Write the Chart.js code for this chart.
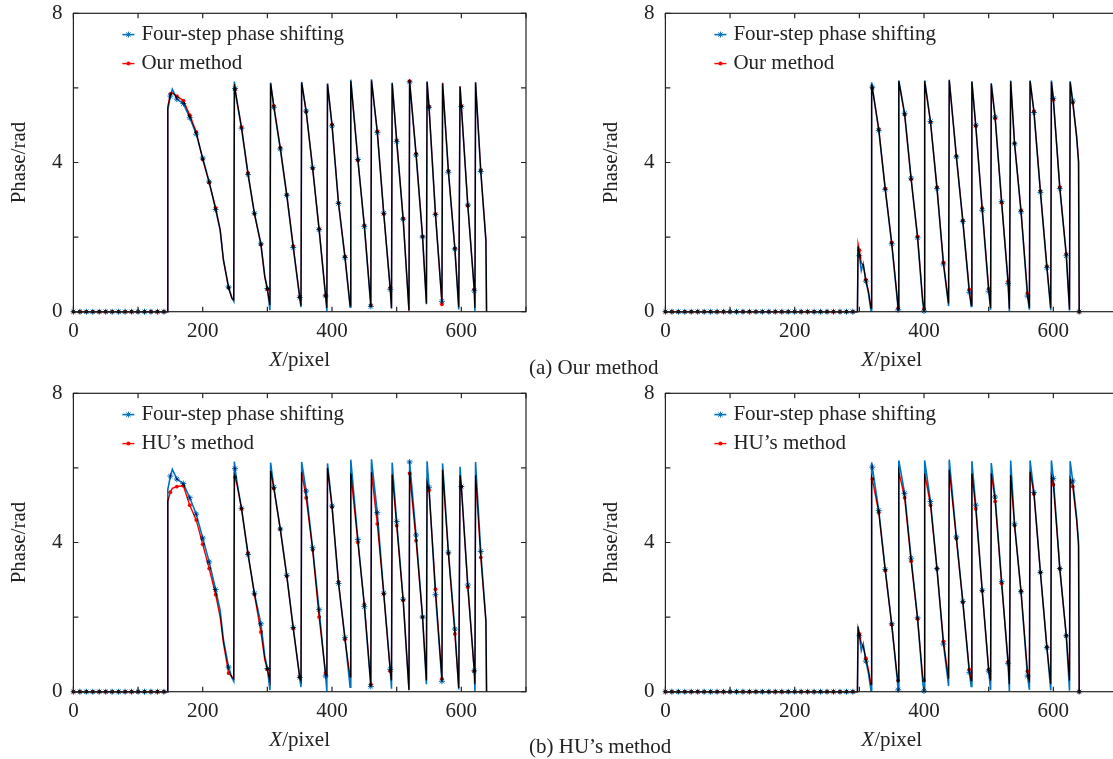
<!DOCTYPE html>
<html>
<head>
<meta charset="utf-8">
<script src="https://cdn.jsdelivr.net/npm/chart.js"></script>
<style>
  html, body { margin: 0; padding: 0; background: #fff; }
  body { width: 1113px; height: 759px; position: relative; overflow: hidden;
         font-family: "Liberation Serif", "Times New Roman", serif; }
  canvas { position: absolute; }
  .caption { position: absolute; font-size: 21px; line-height: 21px; color: #222; white-space: nowrap; }
</style>
</head>
<body>
<canvas id="chartA1" width="560" height="380" style="left:0px;top:0px"></canvas>
<canvas id="chartA2" width="560" height="380" style="left:591.6px;top:0px"></canvas>
<canvas id="chartB1" width="560" height="380" style="left:0px;top:380px"></canvas>
<canvas id="chartB2" width="560" height="380" style="left:591.6px;top:380px"></canvas>
<div class="caption" style="left:529px;top:357px">(a) Our method</div>
<div class="caption" style="left:529px;top:736px">(b) HU’s method</div>
<script>
// x positions (pixel column) for the left pair of plots, shared by both series
const xLeft = [
  0, 10, 20, 30, 40, 50, 60, 70, 80, 90, 100, 110, 120, 130, 140,
  145, 146, 150, 153, 160, 170, 180, 190, 200, 210, 220, 227, 232, 240, 245, 248,
  249, 250, 253, 260, 270, 280, 290, 296, 300, 304,
  305, 310, 320, 330, 340, 350, 352,
  353, 360, 370, 380, 390, 392,
  393, 400, 410, 420, 428,
  429, 440, 450, 460,
  461, 470, 480, 490, 492,
  493, 500, 510, 519,
  520, 530, 540, 546,
  547, 550, 560, 570,
  571, 580, 590, 596,
  598, 600, 610, 620, 621,
  622, 630, 638, 639
];

// four-step phase shifting (reference), left plots
const fourStepLeft = [
  0, 0, 0, 0, 0, 0, 0, 0, 0, 0, 0, 0, 0, 0, 0,
  0, 5.42, 5.78, 5.96, 5.7, 5.58, 5.2, 4.76, 4.12, 3.48, 2.74, 2.18, 1.4, 0.66, 0.38, 0.28,
  6.17, 5.98, 5.62, 4.92, 3.68, 2.64, 1.82, 0.96, 0.62, 0.04,
  6.14, 5.48, 4.36, 3.12, 1.72, 0.38, 0.12,
  6.16, 5.38, 3.86, 2.2, 0.42, 0.02,
  6.12, 4.98, 2.9, 1.45, 0.12,
  6.22, 4.08, 2.28, 0.14,
  6.23, 4.8, 2.64, 0.6, 0.08,
  6.14, 4.56, 2.48, 0.04,
  6.16, 4.2, 2.0, 0.2,
  6.18, 5.48, 2.6, 0.28,
  6.12, 3.74, 1.68, 0.06,
  6.03, 5.5, 2.86, 0.56, 0.02,
  6.16, 3.76, 1.9, 0
];

// our method, left plot (a)
const oursLeft = [
  0, 0, 0, 0, 0, 0, 0, 0, 0, 0, 0, 0, 0, 0, 0,
  0, 5.5, 5.84, 5.86, 5.78, 5.66, 5.27, 4.82, 4.08, 3.46, 2.78, 2.2, 1.38, 0.64, 0.36, 0.32,
  6.1, 5.96, 5.66, 4.95, 3.72, 2.62, 1.8, 0.92, 0.6, 0.18,
  6.12, 5.52, 4.4, 3.14, 1.76, 0.4, 0.16,
  6.14, 5.36, 3.84, 2.22, 0.44, 0.1,
  6.1, 5.02, 2.92, 1.48, 0.16,
  6.18, 4.06, 2.32, 0.18,
  6.2, 4.84, 2.62, 0.64, 0.1,
  6.12, 4.6, 2.5, 0.02,
  6.18, 4.24, 2.02, 0.22,
  6.16, 5.5, 2.62, 0.2,
  6.14, 3.78, 1.7, 0.12,
  6.05, 5.52, 2.84, 0.6, 0.1,
  6.14, 3.8, 1.92, 0
];

// HU's method, left plot (b)
const huLeft = [
  0, 0, 0, 0, 0, 0, 0, 0, 0, 0, 0, 0, 0, 0, 0,
  0, 5.1, 5.35, 5.45, 5.5, 5.52, 5.0, 4.6, 3.95, 3.3, 2.6, 2.0, 1.3, 0.5, 0.4, 0.35,
  5.8, 5.75, 5.55, 4.9, 3.72, 2.6, 1.6, 0.85, 0.6, 0.3,
  5.92, 5.45, 4.36, 3.1, 1.7, 0.4, 0.3,
  5.88, 5.2, 3.8, 2.0, 0.5, 0.45,
  6.0, 4.95, 2.95, 1.4, 0.4,
  5.85, 4.0, 2.35, 0.2,
  5.88, 4.5, 2.62, 0.55, 0.3,
  5.82, 4.45, 2.45, 0.05,
  5.85, 4.05, 2.0, 0.3,
  5.6, 5.4, 2.75, 0.35,
  5.95, 3.7, 1.55, 0.1,
  5.8, 5.5, 2.8, 0.55, 0.2,
  5.8, 3.6, 1.9, 0
];

// x positions for the right pair of plots
const xRight = [
  0, 10, 20, 30, 40, 50, 60, 70, 80, 90, 100, 110, 120, 130, 140,
  150, 160, 170, 180, 190, 200, 210, 220, 230, 240, 250, 260, 270, 280, 290,
  297, 298, 300, 303, 306, 310, 314, 318,
  319, 320, 330, 340, 350, 358, 360,
  361, 370, 380, 390, 398, 400,
  401, 410, 420, 430, 438,
  439, 450, 460, 470, 473,
  474, 480, 490, 500, 503,
  504, 510, 520, 530, 532,
  534, 540, 550, 560, 563,
  564, 570, 580, 590, 596,
  597, 600, 610, 620, 625,
  626, 630, 636, 639, 640
];

const fourStepRight = [
  0, 0, 0, 0, 0, 0, 0, 0, 0, 0, 0, 0, 0, 0, 0,
  0, 0, 0, 0, 0, 0, 0, 0, 0, 0, 0, 0, 0, 0, 0,
  0, 1.75, 1.5, 1.1, 1.28, 0.82, 0.5, 0.02,
  6.15, 6.02, 4.86, 3.28, 1.82, 0.42, 0.05,
  6.2, 5.32, 3.58, 1.98, 0.24, 0.02,
  6.2, 5.1, 3.3, 1.28, 0.15,
  6.22, 4.15, 2.42, 0.52, 0.14,
  6.18, 5.0, 2.72, 0.55, 0.05,
  6.13, 5.22, 2.95, 0.76, 0.02,
  6.2, 4.5, 2.68, 0.42, 0.05,
  6.2, 5.34, 3.2, 1.18, 0.04,
  6.2, 5.72, 3.3, 1.5, 0.03,
  6.18, 5.65, 4.68, 4.0, 0
];

const oursRight = [
  0, 0, 0, 0, 0, 0, 0, 0, 0, 0, 0, 0, 0, 0, 0,
  0, 0, 0, 0, 0, 0, 0, 0, 0, 0, 0, 0, 0, 0, 0,
  0, 1.82, 1.65, 1.3, 1.25, 0.86, 0.56, 0.1,
  6.1, 6.0, 4.9, 3.3, 1.86, 0.48, 0.1,
  6.18, 5.28, 3.55, 2.02, 0.3, 0.08,
  6.18, 5.08, 3.34, 1.32, 0.22,
  6.2, 4.18, 2.45, 0.6, 0.18,
  6.16, 4.98, 2.78, 0.62, 0.1,
  6.1, 5.18, 2.92, 0.82, 0.08,
  6.18, 4.52, 2.72, 0.5, 0.1,
  6.18, 5.38, 3.24, 1.22, 0.1,
  6.16, 5.68, 3.34, 1.55, 0.06,
  6.15, 5.6, 4.72, 4.04, 0
];

const huRight = [
  0, 0, 0, 0, 0, 0, 0, 0, 0, 0, 0, 0, 0, 0, 0,
  0, 0, 0, 0, 0, 0, 0, 0, 0, 0, 0, 0, 0, 0, 0,
  0, 1.7, 1.55, 1.3, 1.2, 0.9, 0.6, 0.2,
  5.75, 5.7, 4.8, 3.25, 1.8, 0.5, 0.3,
  5.9, 5.2, 3.5, 1.95, 0.4, 0.3,
  5.85, 5.0, 3.3, 1.35, 0.35,
  5.95, 4.1, 2.4, 0.6, 0.3,
  5.85, 4.9, 2.7, 0.6, 0.3,
  5.85, 5.1, 2.9, 0.8, 0.2,
  5.8, 4.45, 2.7, 0.55, 0.25,
  5.9, 5.3, 3.2, 1.2, 0.2,
  5.75, 5.55, 3.3, 1.5, 0.3,
  5.7, 5.5, 4.6, 3.9, 0
];

const FONT = '"Liberation Serif", "Times New Roman", serif';
const TEXT = '#222';
const BLUE = '#0072bd';
const RED = '#ff0000';

function toPoints(xs, ys) {
  return xs.map((x, i) => ({ x: x, y: ys[i] }));
}

// markers only every 10 pixels, like the original plot
function markerSize(size) {
  return (ctx) => (ctx.raw && ctx.raw.x % 10 === 0 ? size : 0);
}

// overlapping red and blue turn dark, as in the figure
const multiplyLines = {
  id: 'multiplyLines',
  beforeDatasetsDraw(chart) { chart.ctx.globalCompositeOperation = 'multiply'; },
  afterDatasetsDraw(chart) { chart.ctx.globalCompositeOperation = 'source-over'; }
};

// box around the plot with inward ticks on all four sides
const frameTicks = {
  id: 'frameTicks',
  afterDraw(chart) {
    const { ctx, chartArea: a, scales } = chart;
    const len = 5;
    ctx.save();
    ctx.strokeStyle = '#222';
    ctx.lineWidth = 1.2;
    ctx.strokeRect(a.left, a.top, a.right - a.left, a.bottom - a.top);
    ctx.beginPath();
    scales.x.ticks.forEach((t) => {
      const px = scales.x.getPixelForValue(t.value);
      ctx.moveTo(px, a.bottom); ctx.lineTo(px, a.bottom - len);
      ctx.moveTo(px, a.top); ctx.lineTo(px, a.top + len);
    });
    scales.y.ticks.forEach((t) => {
      const py = scales.y.getPixelForValue(t.value);
      ctx.moveTo(a.left, py); ctx.lineTo(a.left + len, py);
      ctx.moveTo(a.right, py); ctx.lineTo(a.right - len, py);
    });
    ctx.stroke();
    ctx.restore();
  }
};

// legend inside the plot + x title with italic X
const insideLegend = {
  id: 'insideLegend',
  afterDraw(chart) {
    const { ctx, chartArea: a } = chart;
    ctx.save();
    ctx.textBaseline = 'middle';
    ctx.textAlign = 'left';
    chart.data.datasets.forEach((ds, i) => {
      const y = a.top + 21.3 + i * 29;
      const x0 = a.left + 49;
      ctx.strokeStyle = ds.borderColor;
      ctx.fillStyle = ds.borderColor;
      ctx.lineWidth = ds.borderWidth;
      ctx.beginPath();
      ctx.moveTo(x0, y);
      ctx.lineTo(x0 + 12, y);
      ctx.stroke();
      const mx = x0 + 6;
      if (ds.pointStyle === 'star') {
        const r = 3;
        ctx.lineWidth = 1;
        ctx.beginPath();
        ctx.moveTo(mx - r, y); ctx.lineTo(mx + r, y);
        ctx.moveTo(mx, y - r); ctx.lineTo(mx, y + r);
        ctx.moveTo(mx - r * 0.7, y - r * 0.7); ctx.lineTo(mx + r * 0.7, y + r * 0.7);
        ctx.moveTo(mx - r * 0.7, y + r * 0.7); ctx.lineTo(mx + r * 0.7, y - r * 0.7);
        ctx.stroke();
      } else {
        ctx.beginPath();
        ctx.arc(mx, y, 2, 0, Math.PI * 2);
        ctx.fill();
      }
      ctx.fillStyle = TEXT;
      ctx.font = '21px ' + FONT;
      ctx.fillText(ds.label, a.left + 68, y);
    });

    const cx = (a.left + a.right) / 2;
    const ty = 360;
    ctx.fillStyle = TEXT;
    ctx.font = 'italic 21px ' + FONT;
    const w1 = ctx.measureText('X').width;
    ctx.font = '21px ' + FONT;
    const w2 = ctx.measureText('/pixel').width;
    const sx = cx - (w1 + w2) / 2;
    ctx.font = 'italic 21px ' + FONT;
    ctx.fillText('X', sx, ty);
    ctx.font = '21px ' + FONT;
    ctx.fillText('/pixel', sx + w1, ty);
    ctx.restore();
  }
};

function buildChart(canvasId, xs, refYs, methodYs, methodLabel) {
  return new Chart(document.getElementById(canvasId), {
    type: 'line',
    data: {
      datasets: [
        {
          label: 'Four-step phase shifting',
          data: toPoints(xs, refYs),
          borderColor: BLUE,
          backgroundColor: BLUE,
          borderWidth: 1.6,
          pointStyle: 'star',
          pointRadius: markerSize(3),
          pointBorderColor: BLUE,
          pointBorderWidth: 1,
          tension: 0,
          clip: 6
        },
        {
          label: methodLabel,
          data: toPoints(xs, methodYs),
          borderColor: RED,
          backgroundColor: RED,
          borderWidth: 1.4,
          pointStyle: 'circle',
          pointRadius: markerSize(1.9),
          pointBorderWidth: 0,
          tension: 0,
          clip: 6
        }
      ]
    },
    options: {
      responsive: false,
      animation: false,
      devicePixelRatio: 1,
      layout: { padding: { top: 13.3, right: 34, left: 0, bottom: 0 } },
      plugins: {
        legend: { display: false },
        tooltip: { enabled: false }
      },
      scales: {
        x: {
          type: 'linear',
          min: 0,
          max: 700,
          grid: { display: false, drawTicks: false },
          border: { display: false },
          ticks: {
            stepSize: 100,
            autoSkip: false,
            maxRotation: 0,
            padding: 7,
            color: TEXT,
            font: { family: FONT, size: 21 },
            callback: (v) => (v % 200 === 0 ? String(v) : '')
          },
          afterFit: (s) => {
            s.height = 68.3;
            s.paddingLeft = 0;
            s.paddingRight = 0;
          }
        },
        y: {
          min: 0,
          max: 8,
          grid: { display: false, drawTicks: false },
          border: { display: false },
          ticks: {
            stepSize: 2,
            padding: 11,
            color: TEXT,
            font: { family: FONT, size: 21 },
            callback: (v) => (v % 4 === 0 ? String(v) : '')
          },
          title: {
            display: true,
            text: 'Phase/rad',
            color: TEXT,
            font: { family: FONT, size: 21 },
            padding: { top: 7, bottom: 0 }
          },
          afterFit: (s) => {
            s.width = 73.4;
            s.paddingTop = 0;
            s.paddingBottom = 0;
          }
        }
      }
    },
    plugins: [multiplyLines, frameTicks, insideLegend]
  });
}

buildChart('chartA1', xLeft, fourStepLeft, oursLeft, 'Our method');
buildChart('chartA2', xRight, fourStepRight, oursRight, 'Our method');
buildChart('chartB1', xLeft, fourStepLeft, huLeft, 'HU’s method');
buildChart('chartB2', xRight, fourStepRight, huRight, 'HU’s method');
</script>
</body>
</html>
